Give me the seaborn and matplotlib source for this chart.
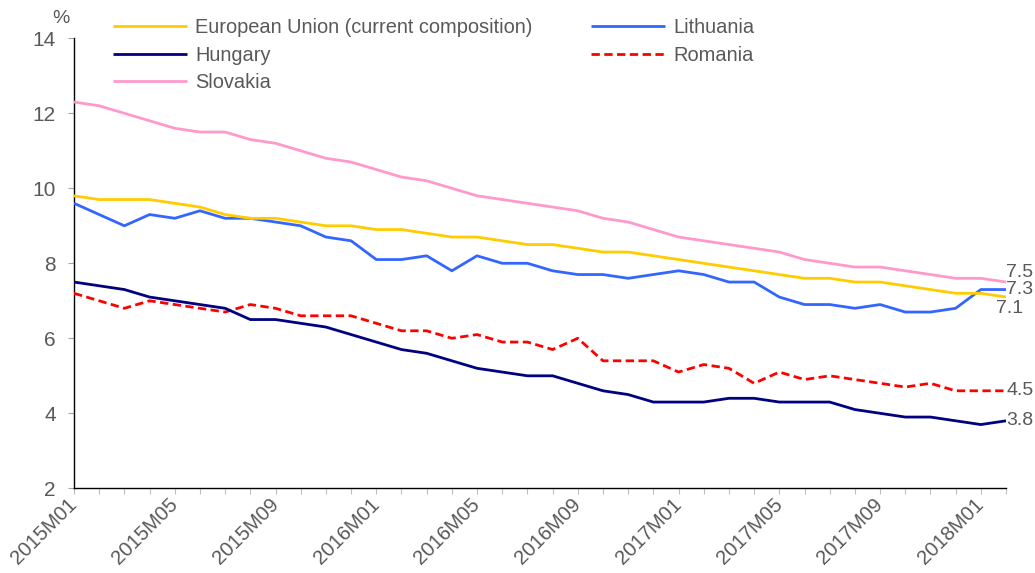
import matplotlib
matplotlib.use("Agg")
import matplotlib.pyplot as plt
import seaborn as sns
import pandas as pd

# ---- data ----
years = [2015, 2016, 2017, 2018]
months = [f"{y}M{m:02d}" for y in years for m in range(1, 13)][:38]   # 2015M01 .. 2018M02

eu = [9.8, 9.7, 9.7, 9.7, 9.6, 9.5, 9.3, 9.2, 9.2, 9.1, 9.0, 9.0, 8.9, 8.9, 8.8, 8.7, 8.7, 8.6, 8.5,
      8.5, 8.4, 8.3, 8.3, 8.2, 8.1, 8.0, 7.9, 7.8, 7.7, 7.6, 7.6, 7.5, 7.5, 7.4, 7.3, 7.2, 7.2, 7.1]
lithuania = [9.6, 9.3, 9.0, 9.3, 9.2, 9.4, 9.2, 9.2, 9.1, 9.0, 8.7, 8.6, 8.1, 8.1, 8.2, 7.8, 8.2, 8.0, 8.0,
             7.8, 7.7, 7.7, 7.6, 7.7, 7.8, 7.7, 7.5, 7.5, 7.1, 6.9, 6.9, 6.8, 6.9, 6.7, 6.7, 6.8, 7.3, 7.3]
hungary = [7.5, 7.4, 7.3, 7.1, 7.0, 6.9, 6.8, 6.5, 6.5, 6.4, 6.3, 6.1, 5.9, 5.7, 5.6, 5.4, 5.2, 5.1, 5.0,
           5.0, 4.8, 4.6, 4.5, 4.3, 4.3, 4.3, 4.4, 4.4, 4.3, 4.3, 4.3, 4.1, 4.0, 3.9, 3.9, 3.8, 3.7, 3.8]
romania = [7.2, 7.0, 6.8, 7.0, 6.9, 6.8, 6.7, 6.9, 6.8, 6.6, 6.6, 6.6, 6.4, 6.2, 6.2, 6.0, 6.1, 5.9, 5.9,
           5.7, 6.0, 5.4, 5.4, 5.4, 5.1, 5.3, 5.2, 4.8, 5.1, 4.9, 5.0, 4.9, 4.8, 4.7, 4.8, 4.6, 4.6, 4.6]
slovakia = [12.3, 12.2, 12.0, 11.8, 11.6, 11.5, 11.5, 11.3, 11.2, 11.0, 10.8, 10.7, 10.5, 10.3, 10.2, 10.0,
            9.8, 9.7, 9.6, 9.5, 9.4, 9.2, 9.1, 8.9, 8.7, 8.6, 8.5, 8.4, 8.3, 8.1, 8.0, 7.9, 7.9, 7.8, 7.7,
            7.6, 7.6, 7.5]

series_names = ["European Union (current composition)", "Lithuania", "Hungary", "Romania", "Slovakia"]
series_values = [eu, lithuania, hungary, romania, slovakia]
end_labels = ["7.1", "7.3", "3.8", "4.5", "7.5"]
y_ticks = [2, 4, 6, 8, 10, 12, 14]

# ---- styles ----
colors = ["#FFCC00", "#3366FF", "#000080", "#FF0000", "#FF99CC"]
dashed = [False, False, False, True, False]
label_offsets = [(-7, -8), (0, 0), (0, 0), (0, 0), (0, 7)]   # points
text_color = "#595959"

sns.set_style("white")
plt.rcParams["font.family"] = ["Liberation Sans", "DejaVu Sans"]

fig = plt.figure(figsize=(10.35, 5.73), dpi=100)
ax = fig.add_axes([0.0715, 0.1478, 0.9005, 0.7854])

rows = []
for name, vals in zip(series_names, series_values):
    for i, v in enumerate(vals):
        rows.append({"series": name, "idx": i, "value": v})
df = pd.DataFrame(rows)

handles = {}
for k in [0, 1, 2, 3, 4]:
    name = series_names[k]
    sub = df[df["series"] == name]
    sns.lineplot(data=sub, x="idx", y="value", ax=ax, color=colors[k], linewidth=2.0,
                 legend=False, zorder=3 + (5 - k) * 0.1)
    line = ax.get_lines()[-1]
    if dashed[k]:
        line.set_dashes([3, 1.6])
    line.set_solid_capstyle("butt")
    handles[name] = line

n = len(months)
for k, name in enumerate(series_names):
    ax.annotate(end_labels[k], xy=(n - 1, series_values[k][-1]),
                xytext=(label_offsets[k][0], label_offsets[k][1]), textcoords="offset points",
                ha="left", va="center", fontsize=14, color=text_color, annotation_clip=False)

ax.set_xlim(0, n - 1)
ax.set_ylim(2, 14)
ax.set_yticks(y_ticks)
ax.set_yticklabels([str(t) for t in y_ticks])
ax.set_xticks(range(n))
ax.set_xticklabels([m if i % 4 == 0 else "" for i, m in enumerate(months)],
                   rotation=45, ha="right", va="center", rotation_mode="anchor")
ax.set_xlabel("")
ax.set_ylabel("")

for s in ["top", "right"]:
    ax.spines[s].set_visible(False)
for s in ["left", "bottom"]:
    ax.spines[s].set_color("black")
    ax.spines[s].set_linewidth(1.0)

ax.tick_params(axis="y", length=4, width=0.8, color="#A6A6A6", labelcolor=text_color,
               labelsize=15, pad=9, left=True)
ax.tick_params(axis="x", length=4, width=0.8, color="#BFBFBF", labelcolor=text_color,
               labelsize=14.6, pad=5.5, bottom=True)

fig.text(60.5 / 1035, 1 - 18.5 / 573, "%", ha="center", va="center", fontsize=14, color=text_color)

leg_order = [0, 2, 4, 1, 3]
leg = fig.legend([handles[series_names[k]] for k in leg_order],
                 [series_names[k] for k in leg_order],
                 loc="upper left", bbox_to_anchor=(113 / 1035, 1 - 18 / 573), ncol=2,
                 frameon=False, fontsize=14.4, handlelength=3.7, handletextpad=0.4,
                 columnspacing=2.95, labelspacing=0.43, borderpad=0, borderaxespad=0)
for t in leg.get_texts():
    t.set_color(text_color)

fig.savefig("out.png", dpi=100)
